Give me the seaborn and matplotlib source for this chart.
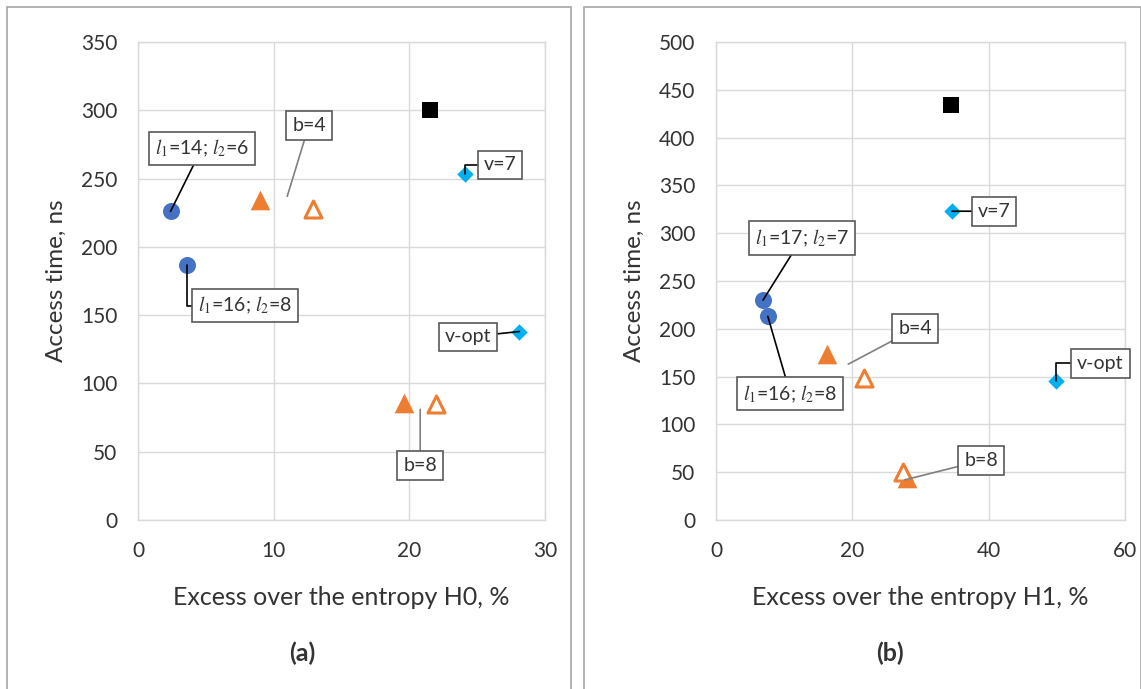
import numpy as np
import pandas as pd
import matplotlib
matplotlib.use("Agg")
import matplotlib.pyplot as plt
import seaborn as sns
from matplotlib.patches import Rectangle

# ---------------- data ----------------
# panel (a)
a_circle_x = [2.4, 3.6]
a_circle_y = [226, 187]
a_tri_x = [9.0, 19.6]
a_tri_y = [234, 86]
a_otri_x = [12.9, 22.0]
a_otri_y = [228, 85]
a_sq_x = [21.5]
a_sq_y = [300]
a_dia_x = [24.1, 28.1]
a_dia_y = [253, 138]
# panel (b)
b_circle_x = [6.9, 7.6]
b_circle_y = [230, 213]
b_tri_x = [16.3, 28.0]
b_tri_y = [174, 44]
b_otri_x = [21.7, 27.4]
b_otri_y = [149, 50]
b_sq_x = [34.5]
b_sq_y = [434]
b_dia_x = [34.6, 49.9]
b_dia_y = [323, 145]

xlabels = ["Excess over the entropy H0, %", "Excess over the entropy H1, %"]
ylabel = "Access time, ns"
captions = ["(a)", "(b)"]

sns.set_theme(style="white")
plt.rcParams["font.family"] = ["Lato", "DejaVu Sans"]
plt.rcParams["mathtext.fontset"] = "stix"

fig = plt.figure(figsize=(11.41, 6.89), dpi=100)
W, H = 1141, 689

# frames
for x0, x1 in [(7, 571), (584, 1141)]:
    fig.patches.append(Rectangle((x0 / W, -0.01), (x1 - x0) / W, (H - 7) / H + 0.01,
                                 transform=fig.transFigure, fill=False,
                                 edgecolor="#A6A6A6", lw=1.2, zorder=0))

axA = fig.add_axes([138 / W, 1 - 520 / H, (545 - 138) / W, (520 - 42) / H])
axB = fig.add_axes([716 / W, 1 - 520 / H, (1125 - 716) / W, (520 - 42) / H])

BLUE = "#4472C4"
ORANGE = "#ED7D31"
CYAN = "#00B0F0"
TXT = "#333333"

def draw(ax, cx, cy, tx, ty, ox, oy, sx, sy, dx, dy):
    sns.scatterplot(x=cx, y=cy, ax=ax, marker="o", s=150, color=BLUE, edgecolor=BLUE, linewidth=0, zorder=5)
    sns.scatterplot(x=tx, y=ty, ax=ax, marker="^", s=200, color=ORANGE, edgecolor=ORANGE, linewidth=0, zorder=5)
    sns.scatterplot(x=ox, y=oy, ax=ax, marker="^", s=150, color="white", edgecolor=ORANGE, linewidth=2.2, zorder=6)
    sns.scatterplot(x=sx, y=sy, ax=ax, marker="s", s=120, color="black", edgecolor="black", linewidth=0, zorder=5)
    sns.scatterplot(x=dx, y=dy, ax=ax, marker="D", s=70, color=CYAN, edgecolor=CYAN, linewidth=0, zorder=5)

draw(axA, a_circle_x, a_circle_y, a_tri_x, a_tri_y, a_otri_x, a_otri_y, a_sq_x, a_sq_y, a_dia_x, a_dia_y)
draw(axB, b_circle_x, b_circle_y, b_tri_x, b_tri_y, b_otri_x, b_otri_y, b_sq_x, b_sq_y, b_dia_x, b_dia_y)

axA.set_xlim(0, 30); axA.set_ylim(0, 350)
axA.set_xticks([0, 10, 20, 30]); axA.set_yticks(np.arange(0, 351, 50))
axB.set_xlim(0, 60); axB.set_ylim(0, 500)
axB.set_xticks([0, 20, 40, 60]); axB.set_yticks(np.arange(0, 501, 50))

for ax, xl in zip([axA, axB], xlabels):
    ax.grid(True, color="#D9D9D9", lw=1)
    ax.set_axisbelow(True)
    for s in ax.spines.values():
        s.set_color("#D9D9D9")
        s.set_linewidth(1)
    ax.tick_params(axis="both", length=0, labelsize=15, colors=TXT, pad=15)
    ax.set_xlabel(xl, fontsize=18, color=TXT, labelpad=18)
    ax.set_ylabel(ylabel, fontsize=17.5, color=TXT, labelpad=10)

fig.text(302 / W, 1 - 653 / H, captions[0], fontsize=18, fontweight="bold", ha="center", va="center", color=TXT)
fig.text(890 / W, 1 - 653 / H, captions[1], fontsize=18, fontweight="bold", ha="center", va="center", color=TXT)

box = dict(boxstyle="square,pad=0.3", fc="white", ec="#595959", lw=1.2)

def label(ax, text, xy, xytext, color="black", conn="arc3", shrinkB=0):
    ax.annotate(text, xy=xy, xytext=xytext, textcoords="data", ha="center", va="center",
                fontsize=14, color=TXT, bbox=box, zorder=10,
                arrowprops=dict(arrowstyle="-", color=color, lw=1.2, shrinkA=0, shrinkB=shrinkB,
                                connectionstyle=conn))

GRAY = "#7F7F7F"
# panel (a)
label(axA, r"$l_1$=14; $l_2$=6", (a_circle_x[0], a_circle_y[0]), (4.7, 272))
label(axA, r"$l_1$=16; $l_2$=8", (a_circle_x[1], a_circle_y[1]), (7.9, 157), conn="angle,angleA=0,angleB=90,rad=0")
label(axA, "b=4", (11.0, 237), (12.6, 289), color=GRAY)
label(axA, "v=7", (a_dia_x[0], a_dia_y[0]), (26.7, 260), conn="angle,angleA=0,angleB=90,rad=0")
label(axA, "v-opt", (a_dia_x[1], a_dia_y[1]), (24.3, 134))
label(axA, "b=8", (20.8, 81), (20.8, 40), color=GRAY)
# panel (b)
label(axB, r"$l_1$=17; $l_2$=7", (b_circle_x[0], b_circle_y[0]), (12.6, 295))
label(axB, r"$l_1$=16; $l_2$=8", (b_circle_x[1], b_circle_y[1]), (10.9, 132))
label(axB, "b=4", (19.4, 163), (29.2, 200), color=GRAY)
label(axB, "v=7", (b_dia_x[0], b_dia_y[0]), (40.8, 323))
label(axB, "v-opt", (b_dia_x[1], b_dia_y[1]), (56.4, 164), conn="angle,angleA=0,angleB=90,rad=0")
label(axB, "b=8", (27.7, 42), (38.9, 62), color=GRAY)

fig.savefig("out.png", dpi=100)
